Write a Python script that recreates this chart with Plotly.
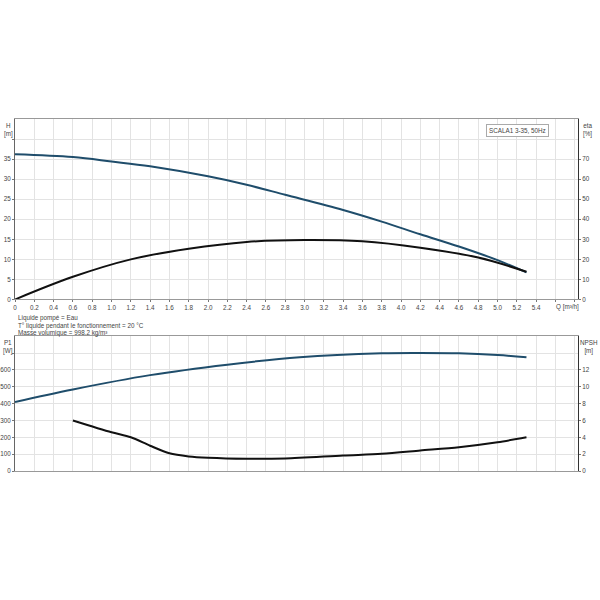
import plotly.graph_objects as go

# Pump curve data (SCALA1 3-35, 50Hz)
q_h = [0, 0.6, 1.0, 1.4, 2.0, 2.4, 2.8, 3.4, 3.8, 4.2, 4.6, 5.0, 5.3]
head_m = [36.2, 35.5, 34.4, 33.2, 30.7, 28.6, 26.1, 22.3, 19.4, 16.25, 13.2, 9.8, 6.75]

q_eta = [0, 0.6, 1.2, 1.8, 2.4, 3.0, 3.6, 4.2, 4.8, 5.3]
eta_pct = [0, 11.3, 20.0, 25.3, 28.7, 29.65, 29.0, 25.8, 20.9, 13.8]

q_p1 = [0, 0.6, 1.4, 2.2, 2.95, 3.8, 4.2, 4.6, 5.0, 5.3]
p1_w = [410, 484, 569, 631, 675, 698, 700, 698, 688, 675]

q_npsh = [0.6, 1.0, 1.2, 1.4, 1.6, 1.8, 2.0, 2.4, 2.8, 3.4, 3.8, 4.2, 4.6, 5.0, 5.3]
npsh_m = [6.0, 4.6, 4.0, 3.0, 2.1, 1.73, 1.57, 1.45, 1.49, 1.84, 2.04, 2.43, 2.82, 3.41, 4.0]

q_ticks = [round(0.2 * i, 1) for i in range(30)]
q_ticktext = ["0" if v == 0 else f"{v:.1f}" for v in q_ticks[:28]] + ["", ""]

h_ticks = [0, 5, 10, 15, 20, 25, 30, 35]
eta_ticks = [0, 10, 20, 30, 40, 50, 60, 70]
p1_ticks = [0, 100, 200, 300, 400, 500, 600]
npsh_ticks = [0, 2, 4, 6, 8, 10, 12]

BLUE = "#1f4d6b"
BLACK = "#111111"
GRID = "#e3e3e3"
TXT = dict(family="Liberation Sans, Arial", size=6.3, color="#444")

W, H = 600, 600
L, R, T, B = 15, 22, 119, 129

fig = go.Figure()
fig.add_trace(go.Scatter(x=q_h, y=head_m, xaxis="x2", yaxis="y3", mode="lines",
                         line=dict(color=BLUE, width=2, shape="spline", smoothing=1)))
fig.add_trace(go.Scatter(x=q_eta, y=eta_pct, xaxis="x2", yaxis="y4", mode="lines",
                         line=dict(color=BLACK, width=2, shape="spline", smoothing=1)))
fig.add_trace(go.Scatter(x=q_p1, y=p1_w, xaxis="x", yaxis="y", mode="lines",
                         line=dict(color=BLUE, width=2, shape="spline", smoothing=1)))
fig.add_trace(go.Scatter(x=q_npsh, y=npsh_m, xaxis="x", yaxis="y2", mode="lines",
                         line=dict(color=BLACK, width=2, shape="spline", smoothing=0.8)))

x_common = dict(range=[0, 5.834], tickmode="array", tickvals=q_ticks, automargin=False,
                showgrid=True, gridcolor=GRID, gridwidth=1, zeroline=False,
                showline=True, linecolor="#999", linewidth=1, mirror=True,
                ticks="outside", ticklen=2, tickcolor="#777", tickfont=TXT)
y_left = dict(zeroline=False, showline=True, linecolor="#666", automargin=False,
              showgrid=True, gridcolor=GRID, tickmode="array",
              ticks="outside", ticklen=2, tickcolor="#777", tickfont=TXT)
y_right = dict(side="right", zeroline=False, showline=True, linecolor="#333",
               automargin=False, showgrid=False, tickmode="array",
               ticks="outside", ticklen=2, tickcolor="#777", tickfont=TXT)

fig.update_layout(
    width=W, height=H,
    paper_bgcolor="white", plot_bgcolor="white",
    showlegend=False,
    margin=dict(l=L, r=R, t=T, b=B),
    xaxis=dict(x_common, anchor="y", showticklabels=False, ticks=""),
    xaxis2=dict(x_common, anchor="y3", ticktext=q_ticktext),
    yaxis=dict(y_left, domain=[0, 0.383], range=[0, 800], tickvals=p1_ticks + [700],
               ticktext=[str(v) for v in p1_ticks] + [""]),
    yaxis2=dict(y_right, overlaying="y", range=[0, 16], tickvals=npsh_ticks),
    yaxis3=dict(y_left, domain=[0.4873, 1], range=[0, 45], tickvals=h_ticks + [40],
                ticktext=[str(v) for v in h_ticks] + [""]),
    yaxis4=dict(y_right, overlaying="y3", range=[0, 90], tickvals=eta_ticks),
)


def px_to_paper(px, py):
    # px, py are pixels as seen in the reference
    return (px - L) / (W - L - R), (H - B - py) / (H - T - B)


notes = [
    (8, 120, "H<br>[m]", "center"),
    (587, 120, "eta<br>[%]", "center"),
    (8, 337, "P1<br>[W]", "center"),
    (589, 337, "NPSH<br>[m]", "center"),
    (16, 312, "Liquide pompé = Eau", "left"),
    (16, 319.5, "T° liquide pendant le fonctionnement = 20 °C", "left"),
    (16, 327, "Masse volumique = 998.2 kg/m³", "left"),
    (567, 301, "Q [m³/h]", "center"),
]
for px, py, text, align in notes:
    ax, ay = px_to_paper(px, py)
    fig.add_annotation(x=ax, y=ay, xref="paper", yref="paper",
                       yanchor="top", xanchor="left" if align == "left" else "center",
                       text=text, showarrow=False, font=TXT, align=align)

bx, by = px_to_paper(549, 124)
fig.add_annotation(x=bx, y=by, xref="paper", yref="paper",
                   text="SCALA1 3-35, 50Hz", showarrow=False, font=TXT,
                   bordercolor="#aaa", borderwidth=1, borderpad=2, bgcolor="white")

# drop the default 8px page margin so the figure sits at the window's corner
fig.write_html("out.html", config={"displayModeBar": False},
               post_script="document.body.style.margin='0';")
